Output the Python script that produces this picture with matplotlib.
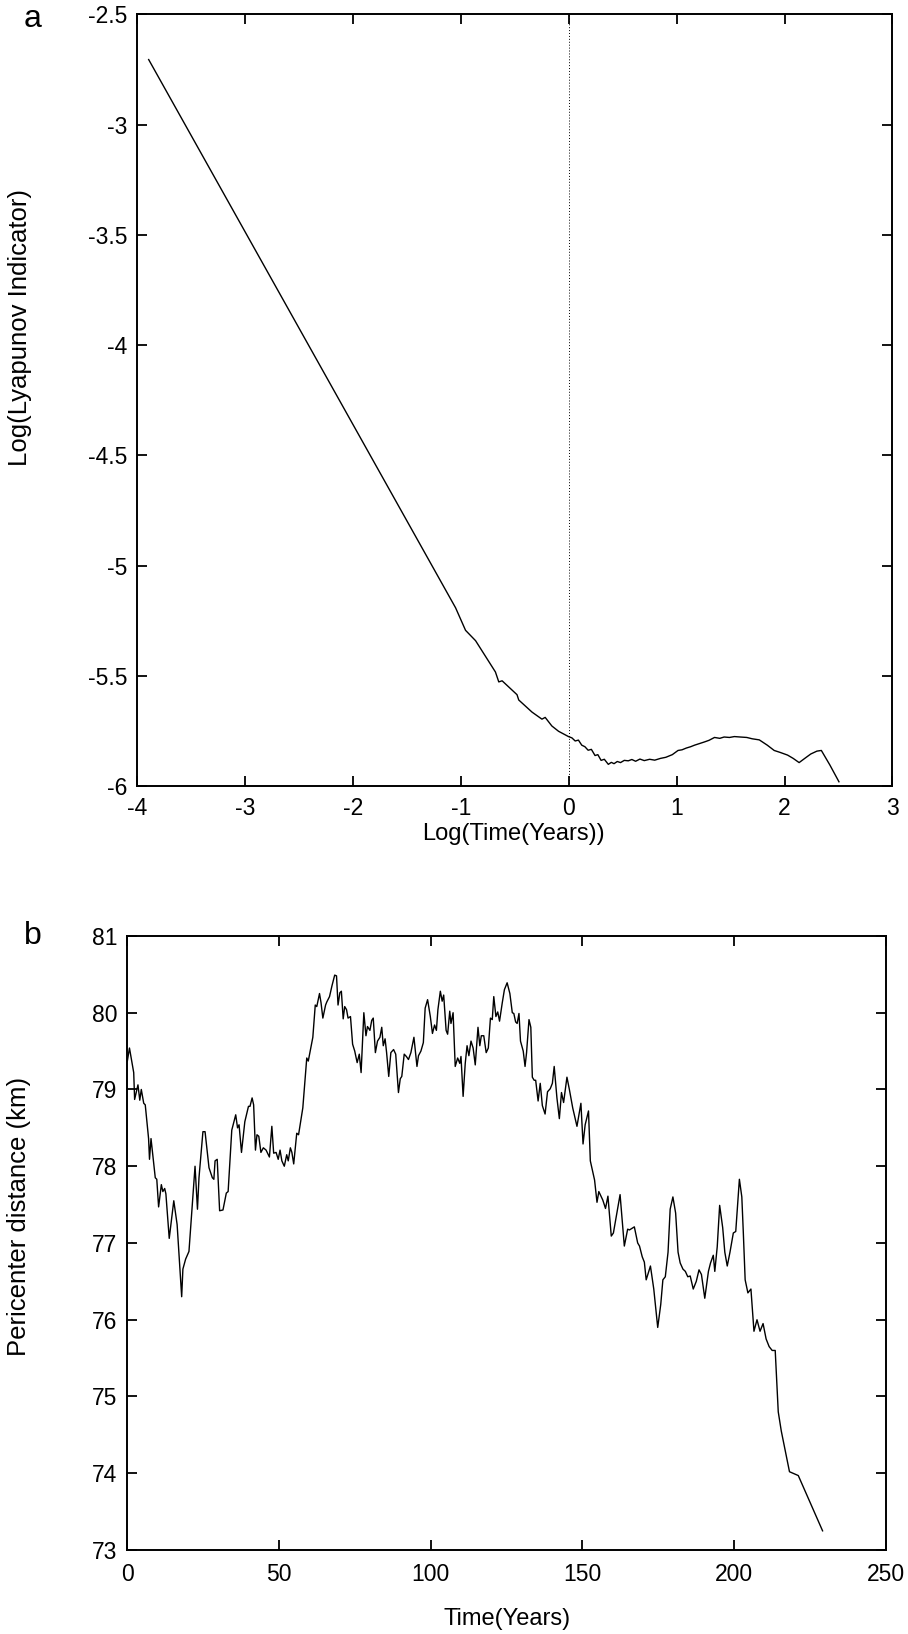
import matplotlib

matplotlib.use("Agg")
import matplotlib.pyplot as plt

plt.rcParams["font.family"] = ["Liberation Sans", "DejaVu Sans"]

# panel a: log of the Lyapunov indicator against log time
lyap_logt = [-3.892, -1.048, -0.956, -0.863, -0.679, -0.648, -0.617, -0.479, -0.463,
             -0.340, -0.248, -0.218, -0.156, -0.094, -0.002, 0.030, 0.060, 0.090,
             0.121, 0.150, 0.180, 0.210, 0.244, 0.270, 0.300, 0.330, 0.367, 0.395,
             0.420, 0.450, 0.480, 0.515, 0.552, 0.585, 0.620, 0.660, 0.700, 0.750,
             0.797, 0.850, 0.900, 0.960, 1.013, 1.050, 1.090, 1.130, 1.166, 1.210,
             1.260, 1.300, 1.351, 1.400, 1.440, 1.490, 1.535, 1.590, 1.650, 1.700,
             1.766, 1.840, 1.904, 1.960, 2.028, 2.080, 2.135, 2.190, 2.243, 2.300,
             2.341, 2.420, 2.504]
lyap_val = [-2.705, -5.192, -5.294, -5.341, -5.483, -5.528, -5.523, -5.586, -5.610,
            -5.665, -5.697, -5.689, -5.728, -5.752, -5.776, -5.782, -5.796, -5.792,
            -5.815, -5.822, -5.838, -5.834, -5.862, -5.858, -5.884, -5.879, -5.902,
            -5.893, -5.899, -5.889, -5.894, -5.884, -5.886, -5.880, -5.888, -5.878,
            -5.885, -5.879, -5.883, -5.875, -5.870, -5.858, -5.839, -5.836, -5.828,
            -5.822, -5.815, -5.808, -5.800, -5.793, -5.780, -5.784, -5.778, -5.780,
            -5.776, -5.778, -5.780, -5.786, -5.791, -5.815, -5.839, -5.848, -5.860,
            -5.875, -5.894, -5.874, -5.855, -5.842, -5.839, -5.905, -5.981]

# panel b: pericenter distance over time
peri_t = [0.1, 0.8, 2.2, 2.5, 3.6, 4.2, 4.7, 5.5, 6.0, 7.1, 7.4, 7.9, 9.3, 9.8, 10.4,
          11.3, 11.8, 12.4, 12.8, 13.9, 15.4, 16.5, 17.6, 18.0, 18.4, 19.3, 20.4, 22.4,
          23.2, 23.7, 25.0, 25.7, 27.0, 28.1, 28.6, 29.0, 29.7, 30.5, 31.6, 32.7, 33.3,
          34.5, 35.8, 36.4, 36.9, 37.7, 38.8, 40.0, 40.5, 41.2, 41.7, 42.3, 42.8, 43.4,
          44.1, 44.9, 45.8, 46.9, 47.7, 48.3, 49.1, 49.8, 50.4, 51.0, 51.8, 52.6, 53.1,
          53.8, 54.3, 54.9, 55.9, 56.5, 57.9, 59.2, 59.7, 61.2, 62.0, 62.5, 63.4, 63.9,
          64.5, 65.4, 65.8, 66.7, 67.5, 68.4, 69.0, 69.5, 70.1, 70.6, 71.2, 71.7, 72.3,
          72.8, 73.6, 74.3, 75.0, 75.8, 76.5, 77.1, 78.0, 78.7, 79.2, 80.0, 80.6, 81.1,
          81.8, 82.5, 83.3, 83.9, 84.4, 85.0, 85.5, 86.2, 86.9, 87.8, 88.5, 89.4, 90.0,
          90.5, 91.3, 92.0, 92.7, 93.5, 94.5, 95.5, 96.0, 96.8, 97.6, 98.2, 99.0, 99.9,
          100.6, 101.3, 101.9, 102.4, 103.2, 103.8, 104.3, 105.1, 105.6, 106.3, 106.7,
          107.4, 108.1, 108.9, 109.6, 110.0, 110.7, 111.4, 112.0, 112.6, 113.3, 114.0,
          114.7, 115.6, 116.2, 116.7, 117.5, 118.3, 119.0, 119.7, 120.3, 120.8, 121.5,
          122.1, 122.7, 123.6, 124.3, 125.2, 126.1, 126.9, 127.4, 128.0, 128.5, 129.1,
          129.6, 130.5, 131.1, 131.6, 132.4, 133.0, 133.5, 134.1, 134.6, 135.4, 136.1,
          136.8, 137.7, 138.5, 139.4, 140.1, 140.7, 141.6, 142.4, 143.1, 143.8, 144.9,
          145.7, 146.8, 148.2, 149.5, 150.2, 150.9, 152.0, 152.6, 154.0, 154.8, 155.4,
          156.7, 157.6, 158.4, 159.5, 160.2, 162.4, 163.8, 164.9, 165.5, 167.1, 168.2,
          168.8, 169.7, 170.4, 171.0, 172.4, 173.5, 174.8, 175.8, 176.5, 177.3, 178.2,
          178.9, 179.8, 180.7, 181.5, 182.2, 183.1, 183.9, 184.7, 185.5, 186.5, 187.5,
          188.4, 189.2, 190.3, 191.5, 192.2, 193.1, 193.6, 194.4, 195.2, 196.2, 196.9,
          197.7, 198.6, 199.7, 200.5, 201.7, 202.5, 203.0, 203.6, 204.5, 205.5, 206.5,
          207.5, 208.5, 209.5, 210.5, 211.5, 212.5, 213.5, 214.5, 215.5, 218.2, 221.1,
          229.1]
peri_km = [79.37, 79.54, 79.22, 78.87, 79.06, 78.86, 79.00, 78.82, 78.80, 78.36, 78.09,
           78.36, 77.85, 77.83, 77.47, 77.76, 77.67, 77.71, 77.64, 77.06, 77.55, 77.24,
           76.54, 76.30, 76.66, 76.79, 76.89, 78.00, 77.44, 77.85, 78.45, 78.45, 77.98,
           77.85, 77.83, 78.07, 78.09, 77.42, 77.43, 77.65, 77.67, 78.47, 78.67, 78.50,
           78.54, 78.18, 78.58, 78.78, 78.78, 78.89, 78.80, 78.21, 78.41, 78.39, 78.18,
           78.24, 78.21, 78.12, 78.52, 78.17, 78.18, 78.09, 78.21, 78.07, 78.00, 78.15,
           78.07, 78.24, 78.18, 78.03, 78.43, 78.41, 78.76, 79.41, 79.37, 79.68, 80.10,
           80.08, 80.25, 80.13, 79.93, 80.10, 80.14, 80.21, 80.35, 80.49, 80.48, 80.10,
           80.26, 80.28, 79.92, 80.08, 80.04, 79.93, 79.95, 79.59, 79.50, 79.35, 79.46,
           79.22, 80.00, 79.70, 79.82, 79.77, 79.90, 79.93, 79.48, 79.63, 79.68, 79.81,
           79.57, 79.66, 79.48, 79.17, 79.48, 79.52, 79.46, 78.96, 79.14, 79.17, 79.46,
           79.43, 79.39, 79.48, 79.68, 79.30, 79.44, 79.50, 79.61, 80.06, 80.17, 79.95,
           79.73, 79.84, 79.77, 80.04, 80.28, 80.15, 80.23, 79.77, 79.72, 80.02, 79.86,
           80.00, 79.30, 79.41, 79.34, 79.43, 78.91, 79.34, 79.57, 79.44, 79.63, 79.54,
           79.32, 79.81, 79.57, 79.70, 79.70, 79.48, 79.54, 79.93, 79.91, 80.21, 79.95,
           80.01, 79.89, 80.13, 80.30, 80.39, 80.25, 80.00, 79.99, 79.88, 79.86, 79.99,
           79.63, 79.50, 79.30, 79.48, 79.91, 79.81, 79.16, 79.12, 79.12, 78.85, 79.08,
           78.79, 78.68, 78.97, 79.01, 79.08, 79.30, 78.89, 78.62, 78.96, 78.83, 79.16,
           79.00, 78.76, 78.52, 78.82, 78.29, 78.54, 78.72, 78.07, 77.82, 77.53, 77.67,
           77.56, 77.45, 77.61, 77.09, 77.13, 77.63, 76.96, 77.18, 77.17, 77.21, 77.00,
           76.96, 76.82, 76.75, 76.52, 76.70, 76.40, 75.90, 76.20, 76.52, 76.56, 76.88,
           77.44, 77.60, 77.39, 76.88, 76.74, 76.66, 76.63, 76.56, 76.57, 76.40, 76.50,
           76.65, 76.59, 76.28, 76.63, 76.74, 76.84, 76.63, 76.95, 77.49, 77.20, 76.88,
           76.70, 76.88, 77.13, 77.15, 77.83, 77.60, 77.13, 76.52, 76.35, 76.40, 75.85,
           76.00, 75.85, 75.95, 75.75, 75.65, 75.60, 75.60, 74.80, 74.55, 74.02, 73.97,
           73.25]

TICK_FS = 16.5
XLABEL_FS = 17
YLABEL_FS = 18.5

W, H = 908, 1634


def style_axes(ax, xpad):
    for side in ax.spines.values():
        side.set_linewidth(1.4)
    ax.tick_params(direction="in", top=True, right=True, length=7, width=1.3,
                   labelsize=TICK_FS)
    ax.tick_params(axis="x", pad=xpad)
    ax.tick_params(axis="y", pad=7)


def px_text(x, y, s, **kw):
    # place text by pixel position measured from the top-left corner
    return fig.text(x / W, 1 - y / H, s, ha="center", va="center", **kw)


fig = plt.figure(figsize=(W / 100, H / 100), dpi=100)
ax_a = fig.add_axes([0.1509, 0.5190, 0.8320, 0.4722])
ax_b = fig.add_axes([0.1399, 0.0514, 0.8359, 0.3758])

ax_a.plot(lyap_logt, lyap_val, color="black", lw=1.0)
ax_a.axvline(0.0, color="black", lw=0.7, ls=(0, (1, 2)))
ax_a.set_xlim(-4, 3)
ax_a.set_ylim(-6, -2.5)
a_xticks = list(range(-4, 4))
a_yticks = [-6, -5.5, -5, -4.5, -4, -3.5, -3, -2.5]
ax_a.set_xticks(a_xticks)
ax_a.set_xticklabels([f"{v:g}" for v in a_xticks])
ax_a.set_yticks(a_yticks)
ax_a.set_yticklabels([f"{v:g}" for v in a_yticks])
style_axes(ax_a, 8)

ax_b.plot(peri_t, peri_km, color="black", lw=1.0)
ax_b.set_xlim(0, 250)
ax_b.set_ylim(73, 81)
ax_b.set_xticks(range(0, 251, 50))
ax_b.set_yticks(range(73, 82))
style_axes(ax_b, 9)

px_text(513, 834, "Log(Time(Years))", fontsize=XLABEL_FS)
px_text(20, 328, "Log(Lyapunov Indicator)", fontsize=YLABEL_FS, rotation=90)
px_text(507, 1619, "Time(Years)", fontsize=XLABEL_FS)
px_text(19, 1216, "Pericenter distance (km)", fontsize=YLABEL_FS, rotation=90)

px_text(33, 19, "a", fontsize=23)
px_text(33, 936, "b", fontsize=23)

fig.savefig("out.png", dpi=100, facecolor="white")
